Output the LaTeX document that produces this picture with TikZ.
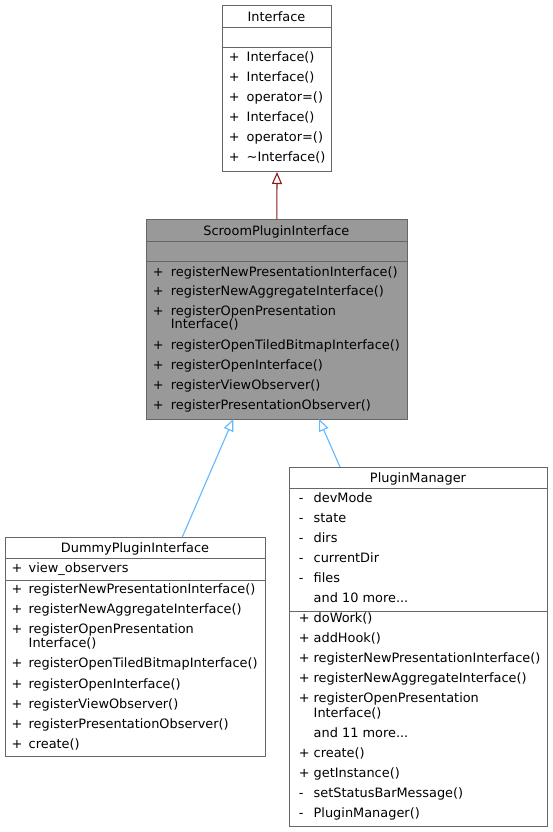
\documentclass[tikz,border=0pt]{standalone}
\usepackage{fontspec}
\setmainfont{DejaVu Sans}
\usetikzlibrary{arrows.meta}
\definecolor{boxgray}{HTML}{666666}
\definecolor{fillgray}{HTML}{999999}
\definecolor{firebrick}{HTML}{8B1A1A}
\definecolor{steelblue}{HTML}{63B8FF}
\newcounter{rowc}
\newcommand\mrow[5]{\stepcounter{rowc}%
  \node[txt] (m\arabic{rowc}) at (#1-1.3,#3+4.6) {#4};%
  \node[txt] (t\arabic{rowc}) at (#2,#3+4.6) {#5};}
\newcommand\trow[3]{\stepcounter{rowc}%
  \node[txt] (t\arabic{rowc}) at (#1,#2+4.6) {#3};}
\begin{document}
\begin{tikzpicture}[x=1pt,y=-1pt,
  every node/.style={font=\fontsize{12.9}{14}\selectfont},
  classbox/.style={draw=boxgray, line width=1pt, rectangle, inner sep=0pt, anchor=north west, fill=white},
  sepline/.style={draw=boxgray, line width=1pt},
  txt/.style={anchor=base west, inner sep=0pt, text=black},
  ttl/.style={anchor=base, inner sep=0pt, text=black},
  redinh/.style={draw=firebrick, line width=1.1pt, -{Triangle[open, length=12pt, width=10pt]}},
  blueinh/.style={draw=steelblue, line width=1.1pt, -{Triangle[open, length=12pt, width=10pt]}}]
\useasboundingbox (0,0) rectangle (552,832);
\fill[white] (0,0) rectangle (552,832);

% Interface
\node[classbox, minimum width=109pt, minimum height=166pt] (iface) at (222,5) {};
\draw[sepline] (222,28) -- (331,28);
\draw[sepline] (222,47.5) -- (331,47.5);
\node[ttl] (ifacet) at (276.5,16.7+4.6) {Interface};
\mrow{230}{246.5}{56.7}{+}{Interface()}
\mrow{230}{246.5}{76.7}{+}{Interface()}
\mrow{230}{246.5}{96.7}{+}{operator=()}
\mrow{230}{246.5}{116.7}{+}{Interface()}
\mrow{230}{246.5}{136.7}{+}{operator=()}
\mrow{230}{246.5}{156.7}{+}{\char"223C Interface()}

% ScroomPluginInterface
\node[classbox, fill=fillgray, minimum width=260.7pt, minimum height=199.7pt] (scroom) at (146,219.3) {};
\draw[sepline] (146,241.7) -- (406.7,241.7);
\draw[sepline] (146,261.7) -- (406.7,261.7);
\node[ttl] (scroomt) at (276.35,230.7+4.6) {ScroomPluginInterface};
\mrow{154}{170.7}{271.5}{+}{registerNewPresentationInterface()}
\mrow{154}{170.7}{291}{+}{registerNewAggregateInterface()}
\mrow{154}{170.7}{310.5}{+}{registerOpenPresentation}
\trow{170.7}{324}{Interface()}
\mrow{154}{170.7}{344.5}{+}{registerOpenTiledBitmapInterface()}
\mrow{154}{170.7}{365}{+}{registerOpenInterface()}
\mrow{154}{170.7}{385}{+}{registerViewObserver()}
\mrow{154}{170.7}{404.5}{+}{registerPresentationObserver()}

% DummyPluginInterface
\node[classbox, minimum width=260pt, minimum height=219pt] (dummy) at (5,537) {};
\draw[sepline] (5,558.5) -- (265,558.5);
\draw[sepline] (5,580.5) -- (265,580.5);
\node[ttl] (dummyt) at (135,548.3+4.6) {DummyPluginInterface};
\mrow{12.7}{28.5}{568.3}{+}{view\_observers}
\mrow{12.7}{28.5}{589.3}{+}{registerNewPresentationInterface()}
\mrow{12.7}{28.5}{609.3}{+}{registerNewAggregateInterface()}
\mrow{12.7}{28.5}{629.3}{+}{registerOpenPresentation}
\trow{28.5}{643.3}{Interface()}
\mrow{12.7}{28.5}{663.3}{+}{registerOpenTiledBitmapInterface()}
\mrow{12.7}{28.5}{684}{+}{registerOpenInterface()}
\mrow{12.7}{28.5}{704}{+}{registerViewObserver()}
\mrow{12.7}{28.5}{724}{+}{registerPresentationObserver()}
\mrow{12.7}{28.5}{744}{+}{create()}

% PluginManager
\node[classbox, minimum width=258pt, minimum height=359pt] (pm) at (289,467) {};
\draw[sepline] (289,488.3) -- (547,488.3);
\draw[sepline] (289,611.7) -- (547,611.7);
\node[ttl] (pmt) at (418,478.3+4.6) {PluginManager};
\mrow{300}{313.5}{498.3}{-}{devMode}
\mrow{300}{313.5}{518.3}{-}{state}
\mrow{300}{313.5}{538.3}{-}{dirs}
\mrow{300}{313.5}{558.3}{-}{currentDir}
\mrow{300}{313.5}{578.3}{-}{files}
\trow{313.5}{598.3}{and 10 more...}
\mrow{300}{313.5}{618.3}{+}{doWork()}
\mrow{300}{313.5}{638.3}{+}{addHook()}
\mrow{300}{313.5}{658.3}{+}{registerNewPresentationInterface()}
\mrow{300}{313.5}{678.3}{+}{registerNewAggregateInterface()}
\mrow{300}{313.5}{698.3}{+}{registerOpenPresentation}
\trow{313.5}{712.7}{Interface()}
\trow{313.5}{733.3}{and 11 more...}
\mrow{300}{313.5}{753.3}{+}{create()}
\mrow{300}{313.5}{773.3}{+}{getInstance()}
\mrow{300}{313.5}{793.3}{-}{setStatusBarMessage()}
\mrow{300}{313.5}{813.3}{-}{PluginManager()}

% connectors
\draw[redinh] (scroom.north) -- (iface.south);
\coordinate (dtop) at (182.3,537);
\coordinate (sbot1) at (233.3,419);
\coordinate (pmtop) at (340,467);
\coordinate (sbot2) at (319,419);
\draw[blueinh] (dtop) -- (sbot1);
\draw[blueinh] (pmtop) -- (sbot2);
\end{tikzpicture}
\end{document}
